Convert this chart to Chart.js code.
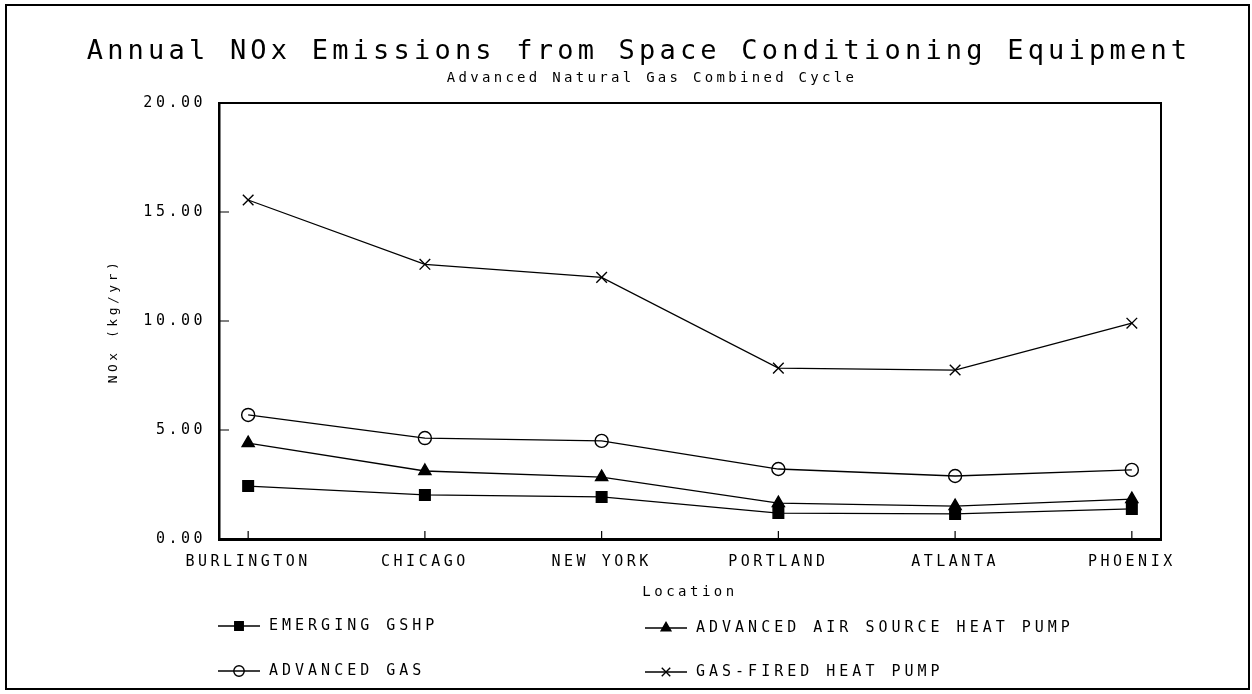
<!DOCTYPE html>
<html>
<head>
<meta charset="utf-8">
<script src="https://cdn.jsdelivr.net/npm/chart.js@4.4.0/dist/chart.umd.min.js"></script>
<style>
  html, body { margin: 0; padding: 0; background: #fff; }
</style>
</head>
<body>
<canvas id="chart" width="1252" height="694"></canvas>
<script>
const locations = ["BURLINGTON", "CHICAGO", "NEW YORK", "PORTLAND", "ATLANTA", "PHOENIX"];
const gshp = [2.43, 2.02, 1.93, 1.19, 1.15, 1.38];
const airSource = [4.40, 3.12, 2.84, 1.65, 1.51, 1.83];
const advGas = [5.69, 4.63, 4.50, 3.21, 2.89, 3.17];
const gasFired = [15.55, 12.60, 12.00, 7.84, 7.75, 9.90];
const yTicks = [0, 5, 10, 15, 20];
const seriesNames = ["EMERGING GSHP", "ADVANCED AIR SOURCE HEAT PUMP", "ADVANCED GAS", "GAS-FIRED HEAT PUMP"];

const MONO = "'DejaVu Sans Mono', 'Liberation Mono', monospace";
Chart.defaults.color = "#000";

const points = (values) => values.map((v, i) => ({ x: i, y: v }));

const common = {
  borderColor: "#000",
  borderWidth: 1.3,
  pointBorderColor: "#000",
  pointBorderWidth: 1.4,
  tension: 0,
  fill: false,
};

const datasets = [
  { ...common, label: seriesNames[0], data: points(gshp), pointStyle: "rect", pointRadius: 7.5, pointBackgroundColor: "#000" },
  { ...common, label: seriesNames[1], data: points(airSource), pointStyle: "triangle", pointRadius: 7, pointBackgroundColor: "#000" },
  { ...common, label: seriesNames[2], data: points(advGas), pointStyle: "circle", pointRadius: 6.5, pointBackgroundColor: "rgba(0,0,0,0)" },
  { ...common, label: seriesNames[3], data: points(gasFired), pointStyle: "crossRot", pointRadius: 7.5, pointBackgroundColor: "#000" },
];

// legend slots: [column x, row y] in the order of the datasets
const legendSlots = [[218, 626], [645, 628], [218, 671], [645, 672]];

const decor = {
  id: "decor",
  beforeUpdate(chart) { chart.ctx.letterSpacing = "3.5px"; },
  beforeDraw(chart) { chart.ctx.letterSpacing = "3.5px"; },
  afterDraw(chart) {
    const { ctx, chartArea: a, scales } = chart;
    ctx.save();
    ctx.strokeStyle = "#000";
    ctx.fillStyle = "#000";

    // outer frame
    ctx.lineWidth = 2;
    ctx.strokeRect(6, 5, 1243, 684);

    // top and right side of the plot box
    ctx.beginPath();
    ctx.moveTo(a.left, a.top);
    ctx.lineTo(a.right, a.top);
    ctx.lineTo(a.right, a.bottom);
    ctx.stroke();

    // inward tick marks
    ctx.lineWidth = 1.2;
    ctx.beginPath();
    scales.y.ticks.forEach((t) => {
      const y = scales.y.getPixelForValue(t.value);
      ctx.moveTo(a.left, y);
      ctx.lineTo(a.left + 10, y);
    });
    scales.x.ticks.forEach((t) => {
      const x = scales.x.getPixelForValue(t.value);
      ctx.moveTo(x, a.bottom + 2);
      ctx.lineTo(x, a.bottom - 8);
    });
    ctx.stroke();

    // titles
    ctx.textAlign = "center";
    ctx.textBaseline = "middle";
    ctx.letterSpacing = "4.2px";
    ctx.font = "27px " + MONO;
    ctx.fillText("Annual NOx Emissions from Space Conditioning Equipment", 639, 52);
    ctx.letterSpacing = "3.3px";
    ctx.font = "14px " + MONO;
    ctx.fillText("Advanced Natural Gas Combined Cycle", 652, 78);

    // legend
    ctx.textAlign = "left";
    ctx.letterSpacing = "4px";
    ctx.font = "15px " + MONO;
    chart.data.datasets.forEach((ds, i) => {
      const [x, y] = legendSlots[i];
      ctx.lineWidth = 1.3;
      ctx.beginPath();
      ctx.moveTo(x, y);
      ctx.lineTo(x + 42, y);
      ctx.stroke();
      ctx.fillStyle = ds.pointBackgroundColor;
      ctx.lineWidth = 1.4;
      Chart.helpers.drawPoint(ctx, { pointStyle: ds.pointStyle, radius: ds.pointRadius * 0.8, rotation: 0, borderWidth: 1.4 }, x + 21, y);
      ctx.fillStyle = "#000";
      ctx.fillText(ds.label, x + 51, y);
    });
    ctx.restore();
  },
};

new Chart(document.getElementById("chart"), {
  type: "line",
  data: { datasets },
  plugins: [decor],
  options: {
    responsive: false,
    animation: false,
    devicePixelRatio: 1,
    layout: { padding: { left: 106, top: 103, right: 91, bottom: 93 } },
    plugins: {
      legend: { display: false },
      title: { display: false },
      tooltip: { enabled: false },
    },
    scales: {
      x: {
        type: "linear",
        min: -0.165,
        max: 5.165,
        afterBuildTicks: (s) => { s.ticks = locations.map((_, i) => ({ value: i })); },
        afterFit: (s) => { s.height = 62; },
        grid: { display: false, drawTicks: false },
        border: { display: true, color: "#000", width: 3 },
        ticks: {
          autoSkip: false,
          maxRotation: 0,
          padding: 14,
          font: { family: MONO, size: 15 },
          callback: (v) => locations[v],
        },
        title: {
          display: true,
          text: "Location",
          font: { family: MONO, size: 14 },
          padding: { top: 0, bottom: 0 },
        },
      },
      y: {
        min: 0,
        max: 20,
        afterBuildTicks: (s) => { s.ticks = yTicks.map((v) => ({ value: v })); },
        afterFit: (s) => { s.width = 113; },
        grid: { display: false, drawTicks: false },
        border: { display: true, color: "#000", width: 2.5 },
        ticks: {
          padding: 13,
          font: { family: MONO, size: 15 },
          callback: (v) => v.toFixed(2),
        },
        title: {
          display: true,
          text: "NOx (kg/yr)",
          font: { family: MONO, size: 13 },
          padding: { top: 0, bottom: 0 },
        },
      },
    },
  },
});
</script>
</body>
</html>
